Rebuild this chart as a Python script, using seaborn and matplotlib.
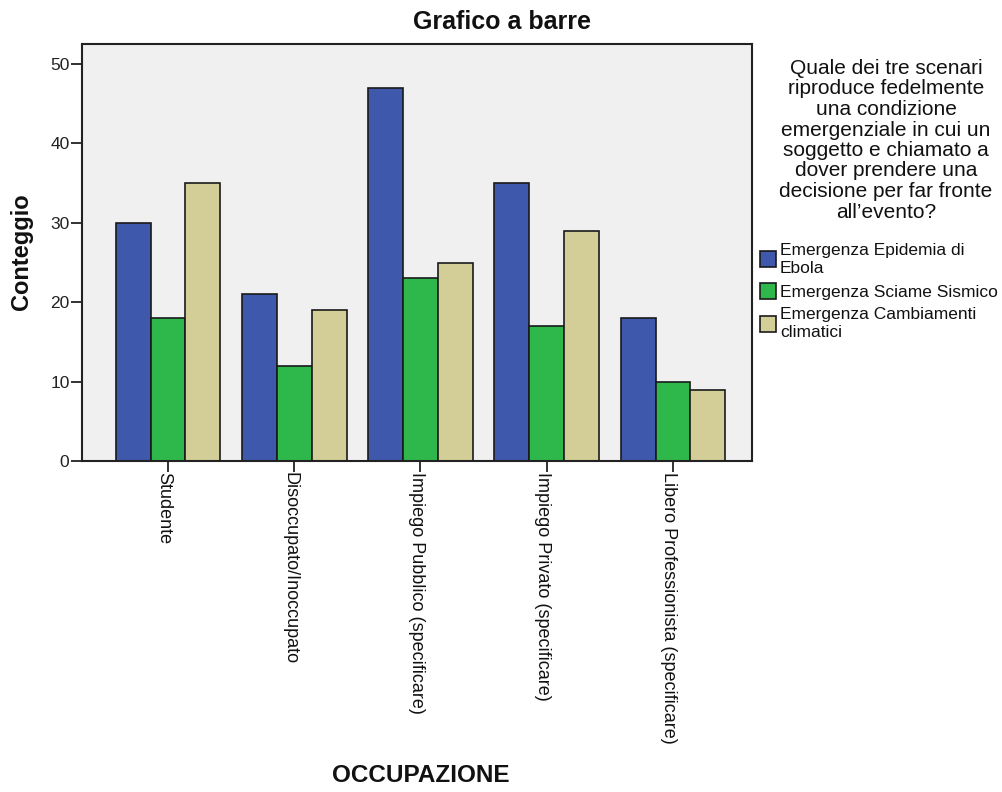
import matplotlib
matplotlib.use("Agg")
import matplotlib.pyplot as plt
import matplotlib.transforms as mtransforms
import seaborn as sns
import pandas as pd

# ---- data ----
categories = ["Studente", "Disoccupato/Inoccupato", "Impiego Pubblico (specificare)",
              "Impiego Privato (specificare)", "Libero Professionista (specificare)"]
series_names = ["Emergenza Epidemia di\nEbola", "Emergenza Sciame Sismico",
                "Emergenza Cambiamenti\nclimatici"]
ebola = [30, 21, 47, 35, 18]
sismico = [18, 12, 23, 17, 10]
climatici = [35, 19, 25, 29, 9]
y_ticks = [0, 10, 20, 30, 40, 50]

title = "Grafico a barre"
x_label = "OCCUPAZIONE"
y_label = "Conteggio"
legend_title = ("Quale dei tre scenari\nriproduce fedelmente\nuna condizione\n"
                "emergenziale in cui un\nsoggetto e chiamato a\ndover prendere una\n"
                "decisione per far fronte\nall\u2019evento?")

colors = ["#3E58AC", "#2EB84B", "#D3CE97"]

rows = []
for name, vals in zip(series_names, [ebola, sismico, climatici]):
    for c, v in zip(categories, vals):
        rows.append({"cat": c, "serie": name, "count": v})
df = pd.DataFrame(rows)

sns.set_style("ticks")
plt.rcParams["font.family"] = ["Liberation Sans", "DejaVu Sans"]

W, H = 1002, 792
fig = plt.figure(figsize=(W / 100, H / 100), dpi=100)
ax = fig.add_axes([82 / W, 1 - 461 / H, (752 - 82) / W, (461 - 44) / H])

sns.barplot(data=df, x="cat", y="count", hue="serie", order=categories,
            hue_order=series_names, palette=colors, width=0.83,
            edgecolor="#1a1a1a", linewidth=1.2, saturation=1, ax=ax, legend=True)

ax.set_facecolor("#F0F0F0")
ax.set_xlim(-0.681, 4.626)
ax.set_ylim(0, 52.52)
ax.set_yticks(y_ticks)
ax.set_xlabel("")
ax.set_ylabel("")
for s in ax.spines.values():
    s.set_visible(True)
    s.set_color("#222222")
    s.set_linewidth(1.5)

ax.tick_params(axis="y", direction="out", length=8, width=1.3, color="#222222",
               labelsize=12.5, pad=1, labelcolor="#222222")
ax.tick_params(axis="x", direction="out", length=8, width=1.3, color="#222222",
               labelsize=13, pad=0, labelcolor="#111111")
ax.set_xticks(range(len(categories)))
ax.set_xticklabels(categories, rotation=-90, ha="center", va="top")
offset = mtransforms.ScaledTranslation(-4 / 100, 0, fig.dpi_scale_trans)
for lbl in ax.get_xticklabels():
    lbl.set_transform(lbl.get_transform() + offset)

# legend
handles, labels = ax.get_legend_handles_labels()
ax.get_legend().remove()
leg = fig.legend(handles, labels, loc="upper left",
                 bbox_to_anchor=(760 / W, 1 - 243 / H), frameon=False,
                 fontsize=12.5, handlelength=0.95, handleheight=1.05,
                 handletextpad=0.2, labelspacing=0.42, borderpad=0, borderaxespad=0)
for t in leg.get_texts():
    t.set_linespacing(1.22)
    t.set_color("#111111")

fig.text(886 / W, 1 - 59 / H, legend_title, ha="center", va="top",
         multialignment="center", fontsize=15, linespacing=1.1, color="#111111")

fig.text(502 / W, 1 - 22 / H, title, ha="center", va="center", fontsize=18,
         fontweight="bold", color="#111111")
fig.text(421 / W, 1 - 775 / H, x_label, ha="center", va="center", fontsize=17.5,
         fontweight="bold", color="#111111")
fig.text(22 / W, 1 - 252 / H, y_label, ha="center", va="center", rotation=90,
         fontsize=17, fontweight="bold", color="#111111")

fig.savefig("out.png", dpi=100, facecolor="white")
